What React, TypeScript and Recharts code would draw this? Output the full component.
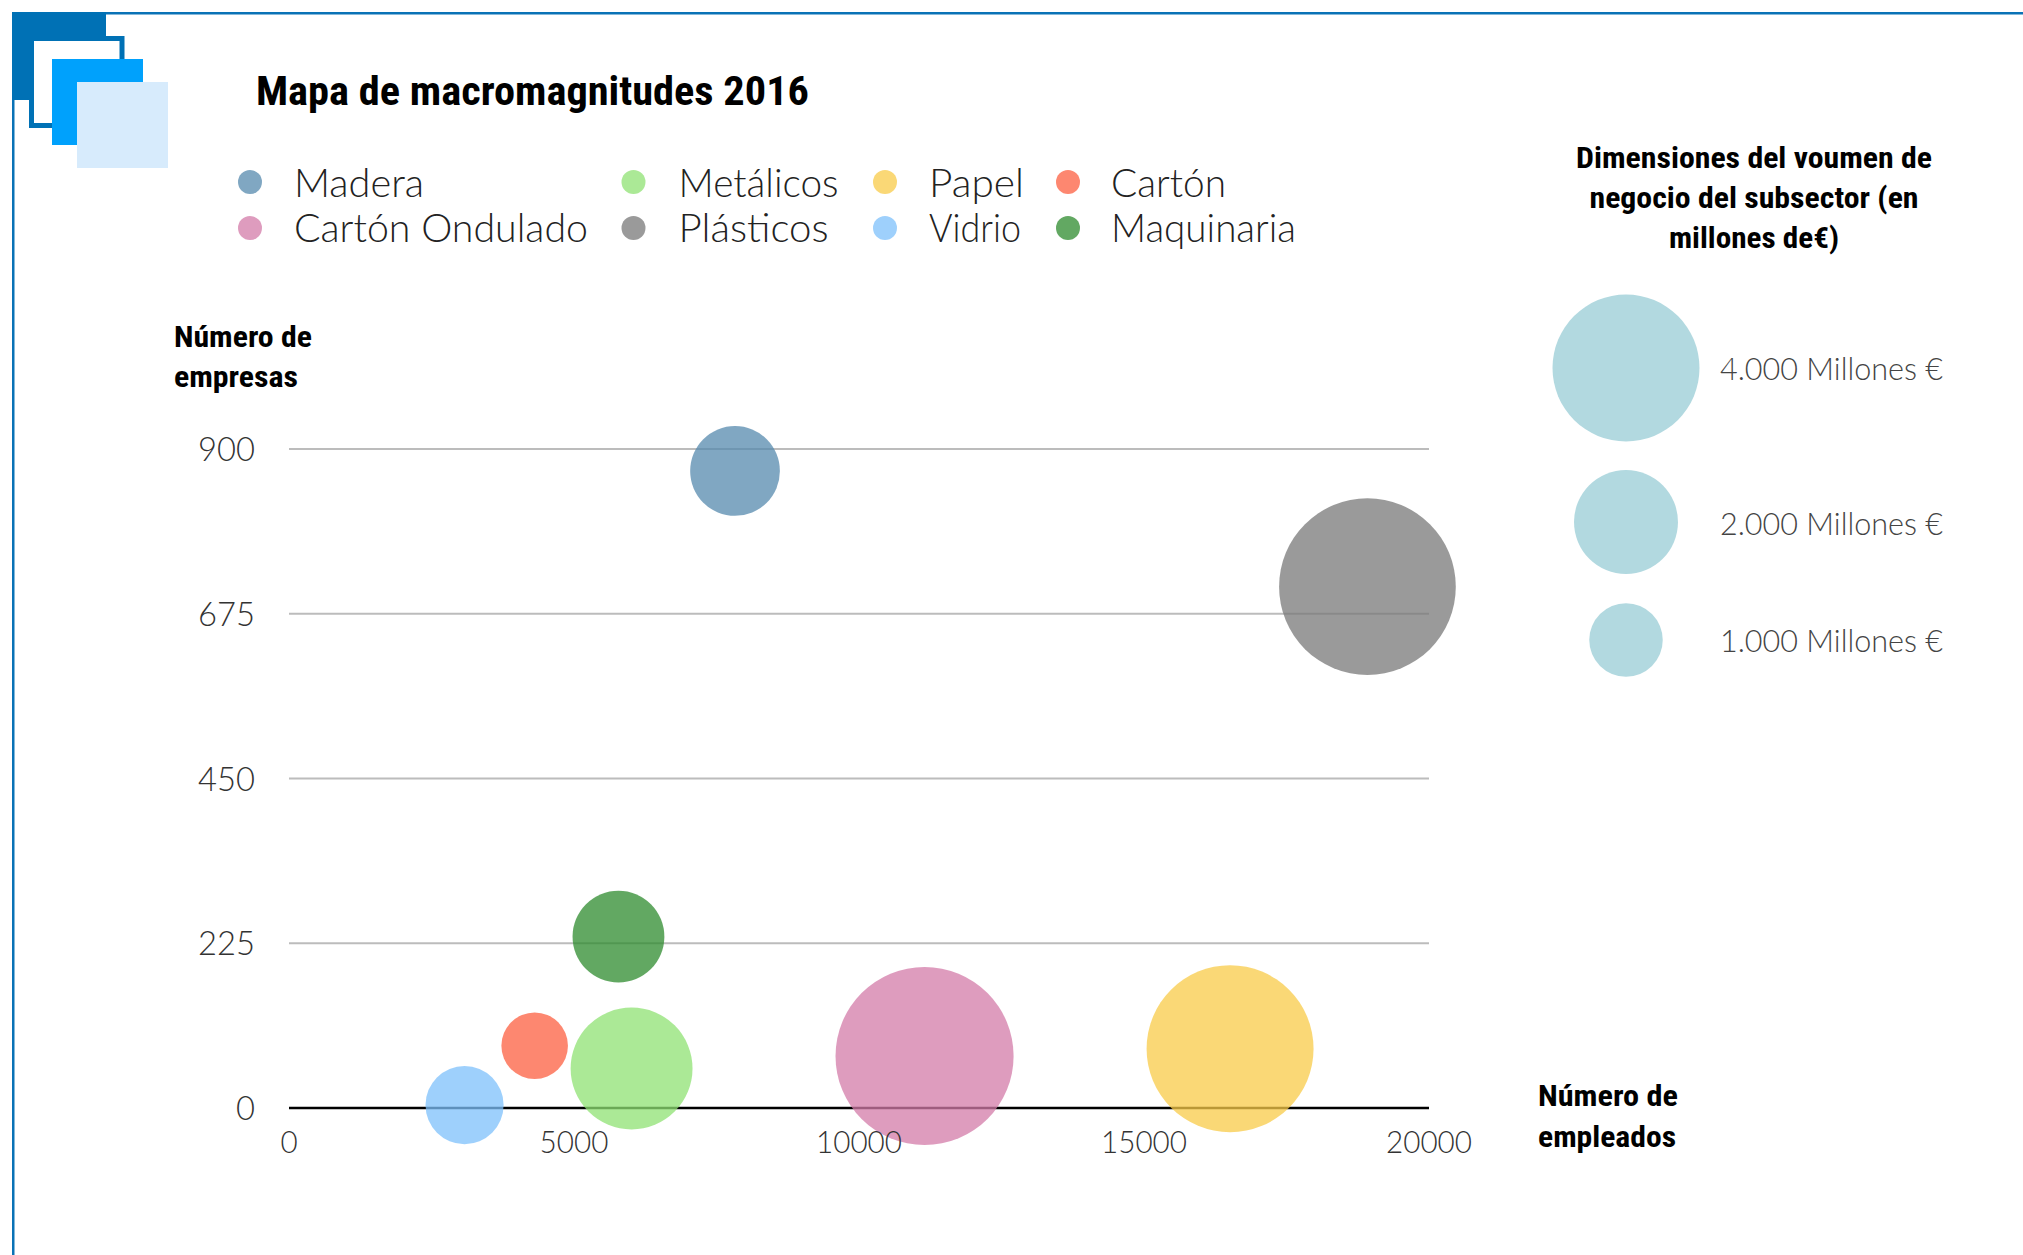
import React from 'react';
import { ScatterChart, Scatter, XAxis, YAxis, ZAxis, CartesianGrid } from 'recharts';

// ---- data ----
const CATEGORIES = ['Madera', 'Cartón Ondulado', 'Metálicos', 'Plásticos', 'Papel', 'Vidrio', 'Cartón', 'Maquinaria'];
const EMPLOYEES = [7825, 11150, 6010, 18920, 16510, 3080, 4310, 5780];
const COMPANIES = [870, 71, 54, 712, 81, 4, 85, 234];
const TURNOVER = [1490, 5870, 2750, 5780, 5160, 1130, 820, 1560];
const COLORS = ['#568aae', '#d37ba8', '#8fe273', '#787878', '#f8cb48', '#7ec0fb', '#fc5f40', '#2e8b2e'];
const LEGEND_WIDTHS = [130, 294, 160, 150, 95, 92, 115, 185];
const Y_TICKS = [0, 225, 450, 675, 900];
const X_TICKS = [0, 5000, 10000, 15000, 20000];
const SIZE_LEGEND_VALUES = [4000, 2000, 1000];
const SIZE_LEGEND_LABELS = ['4.000 Millones €', '2.000 Millones €', '1.000 Millones €'];

const TITLE = 'Mapa de macromagnitudes 2016';
const Y_TITLE = ['Número de', 'empresas'];
const X_TITLE = ['Número de', 'empleados'];
const SIZE_TITLE = ['Dimensiones del voumen de', 'negocio del subsector (en', 'millones de€)'];

// ---- styling ----
const W = 2023;
const H = 1255;
const Z_DOMAIN_MAX = 8000;
const R_AT_4000 = 73.5;
const AREA_MAX = Math.PI * R_AT_4000 * R_AT_4000 * (Z_DOMAIN_MAX / 4000);
const radiusFor = (v: number) => Math.sqrt((AREA_MAX * v) / Z_DOMAIN_MAX / Math.PI);
const BUBBLE_OPACITY = 0.75;
const LIGHT = "Lato, Roboto, 'Helvetica Neue', Arial, sans-serif";
const COND = "'Liberation Sans Narrow', 'Roboto Condensed', 'DejaVu Sans Condensed', Roboto, Arial, sans-serif";

const LEG_DOT_X = [250, 633.5, 885, 1068];
const LEG_TEXT_X = [294, 678.6, 929, 1111];
const LEG_DOT_Y = [182, 228];
const LEG_TEXT_Y = [197, 242];

const YTick = (props: any) => {
  const { x, y, payload } = props;
  return (
    <text x={x - 34} y={y} dy={12} textAnchor="end" fontFamily={LIGHT} fontWeight={300} fontSize={34} fill="#333"
      textLength={String(payload.value).length * 19} lengthAdjust="spacingAndGlyphs">
      {payload.value}
    </text>
  );
};

const XTick = (props: any) => {
  const { x, y, payload } = props;
  return (
    <text x={x} y={y} dy={45} textAnchor="middle" fontFamily={LIGHT} fontWeight={300} fontSize={31} fill="#333"
      textLength={String(payload.value).length * 17.2} lengthAdjust="spacingAndGlyphs">
      {payload.value}
    </text>
  );
};

const Overlay = () => (
  <svg width={W} height={H} style={{ position: 'absolute', left: 0, top: 0, pointerEvents: 'none' }}>
    {/* frame */}
    <rect x={12} y={12} width={W - 12} height={2.5} fill="#0a72b6" />
    <rect x={12} y={12} width={2.5} height={H - 12} fill="#0a72b6" />
    <rect x={12} y={12} width={94} height={88} fill="#0071b5" />
    <rect x={31.5} y={38.5} width={90.5} height={87} fill="#ffffff" stroke="#0071b5" strokeWidth={5} />
    <rect x={52} y={59} width={91} height={86} fill="#00a1fc" />
    <rect x={77} y={82} width={91} height={86} fill="#d7ebfc" />

    {/* title */}
    <text x={256} y={105} fontFamily={COND} fontWeight={700} fontSize={40} fill="#000" textLength={553} lengthAdjust="spacingAndGlyphs">
      {TITLE}
    </text>

    {/* series legend */}
    {CATEGORIES.map((c, i) => {
      const col = Math.floor(i / 2);
      const row = i % 2;
      return (
        <g key={c}>
          <circle cx={LEG_DOT_X[col]} cy={LEG_DOT_Y[row]} r={12} fill={COLORS[i]} fillOpacity={BUBBLE_OPACITY} />
          <text x={LEG_TEXT_X[col]} y={LEG_TEXT_Y[row]} fontFamily={LIGHT} fontWeight={300} fontSize={39} fill="#222"
            textLength={LEGEND_WIDTHS[i]} lengthAdjust="spacingAndGlyphs">
            {c}
          </text>
        </g>
      );
    })}

    {/* axis titles */}
    {Y_TITLE.map((t, i) => (
      <text key={t} x={174} y={347 + i * 39.5} fontFamily={COND} fontWeight={700} fontSize={30} fill="#000"
        textLength={i === 0 ? 138 : 124} lengthAdjust="spacingAndGlyphs">{t}</text>
    ))}
    {X_TITLE.map((t, i) => (
      <text key={t} x={1538} y={1106 + i * 41} fontFamily={COND} fontWeight={700} fontSize={30} fill="#000"
        textLength={i === 0 ? 140 : 138} lengthAdjust="spacingAndGlyphs">{t}</text>
    ))}

    {/* size legend */}
    {SIZE_TITLE.map((t, i) => (
      <text key={t} x={1754} y={168 + i * 40} textAnchor="middle" fontFamily={COND} fontWeight={700} fontSize={30} fill="#000"
        textLength={[356, 329, 170][i]} lengthAdjust="spacingAndGlyphs">{t}</text>
    ))}
    {SIZE_LEGEND_VALUES.map((v, i) => (
      <g key={v}>
        <circle cx={1626} cy={[368, 522, 640][i]} r={radiusFor(v)} fill="#b2d9e0" />
        <text x={1720} y={[380, 535, 652][i]} fontFamily={LIGHT} fontWeight={300} fontSize={31} fill="#444"
          textLength={223} lengthAdjust="spacingAndGlyphs">{SIZE_LEGEND_LABELS[i]}</text>
      </g>
    ))}
  </svg>
);

export default function App() {
  return (
    <div style={{ position: 'absolute', left: 0, top: 0, width: W, height: H, overflow: 'hidden', background: '#fff' }}>
      <Overlay />
      <div style={{ position: 'absolute', left: 0, top: 0 }}>
        <ScatterChart width={W} height={H} margin={{ top: 449, right: 594, bottom: 87, left: 189 }}>
          <CartesianGrid horizontal vertical={false} stroke="#bcbcbc" strokeWidth={2} />
          <XAxis type="number" dataKey="x" domain={[0, 20000]} ticks={X_TICKS} interval={0} height={60}
            axisLine={{ stroke: '#000', strokeWidth: 2.5 }} tickLine={false} tickSize={0} tickMargin={0} tick={<XTick />} />
          <YAxis type="number" dataKey="y" domain={[0, 900]} ticks={Y_TICKS} interval={0} width={100}
            axisLine={false} tickLine={false} tickSize={0} tickMargin={0} tick={<YTick />} />
          <ZAxis type="number" dataKey="z" domain={[0, Z_DOMAIN_MAX]} range={[0, AREA_MAX]} />
          {CATEGORIES.map((c, i) => (
            <Scatter key={c} name={c} data={[{ x: EMPLOYEES[i], y: COMPANIES[i], z: TURNOVER[i] }]}
              fill={COLORS[i]} fillOpacity={BUBBLE_OPACITY} shape="circle" isAnimationActive={false} />
          ))}
        </ScatterChart>
      </div>
    </div>
  );
}
